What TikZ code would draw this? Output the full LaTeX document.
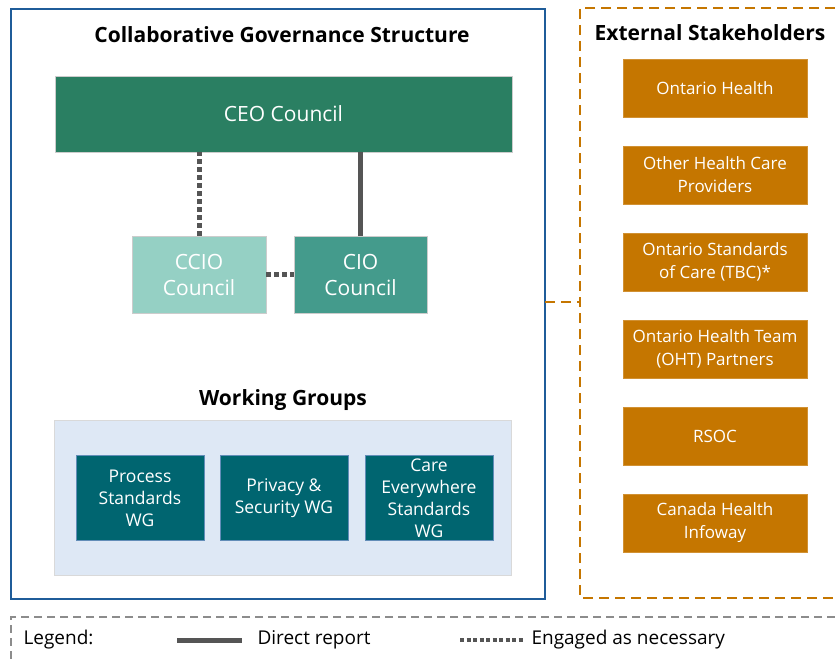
\documentclass[tikz,border=0pt]{standalone}
\usepackage{fontspec}
\setmainfont{Open Sans}
\usepackage{tikz}
\usetikzlibrary{positioning}

\definecolor{frameblue}{RGB}{31,92,153}
\definecolor{ceogreen}{RGB}{42,127,98}
\definecolor{cciogreen}{RGB}{149,208,196}
\definecolor{ciogreen}{RGB}{68,155,140}
\definecolor{wgteal}{RGB}{0,101,112}
\definecolor{panelblue}{RGB}{222,232,245}
\definecolor{stakeorange}{RGB}{197,118,0}
\definecolor{linegray}{RGB}{85,85,85}
\definecolor{legendgray}{RGB}{140,140,140}

\begin{document}
\begin{tikzpicture}[x=1pt, y=-1pt,
	council/.style={draw=gray!40, text=white, align=center, inner sep=0pt, font=\fontsize{21}{26}\selectfont},
	wgbox/.style={fill=wgteal, draw=frameblue!70, text=white, align=center, inner sep=0pt,
		minimum width=128pt, minimum height=85pt, font=\fontsize{17.5}{22}\selectfont},
	stakebox/.style={fill=stakeorange, draw=stakeorange!80!white, text=white, align=center, inner sep=0pt,
		minimum width=184pt, minimum height=58pt, font=\fontsize{17}{23}\selectfont},
	heading/.style={font=\bfseries\fontsize{21}{25}\selectfont},
	legendtxt/.style={anchor=west, font=\fontsize{19}{22}\selectfont},
	direct/.style={draw=linegray, line width=5pt},
	engaged/.style={draw=linegray, line width=5pt, dash pattern=on 5pt off 3pt}]
	\useasboundingbox (0, 0) rectangle (835, 661);
	
	% frames
	\draw[frameblue, line width=2pt] (11, 9) rectangle (545, 599);
	\draw[stakeorange, line width=2.5pt, dash pattern=on 10pt off 6pt] (835, 8) -| (580, 598) -- (835, 598);
	\draw[stakeorange, line width=2.5pt, dash pattern=on 10pt off 6pt] (545, 302) -- (580, 302);
	
	% governance
	\node[heading] (govtitle) at (282, 35) {Collaborative Governance Structure};
	\node[council, fill=ceogreen, minimum width=457pt, minimum height=76pt] (ceo) at (283.5, 114) {CEO Council};
	\node[council, fill=cciogreen, minimum width=134pt, minimum height=77pt] (ccio) at (199, 274.5) {CCIO\\Council};
	\node[council, fill=ciogreen, minimum width=133pt, minimum height=77pt] (cio) at (360.5, 274.5) {CIO\\Council};
	
	\draw[engaged] (ccio.north) -- (ccio.north |- ceo.south);
	\draw[direct] (cio.north) -- (cio.north |- ceo.south);
	\draw[engaged] (ccio.east) -- (cio.west);
	
	% working groups
	\node[heading] (wgtitle) at (283, 400) {Working Groups};
	\node[fill=panelblue, draw=gray!30, minimum width=457pt, minimum height=155pt] (panel) at (282.5, 497.5) {};
	\node[wgbox] (wgproc) at (140, 498) {Process\\Standards\\WG};
	\node[wgbox] (wgpriv) at (284, 498) {Privacy \&\\Security WG};
	\node[wgbox] (wgcare) at (429, 498) {Care\\Everywhere\\Standards\\WG};
	
	% external stakeholders
	\node[heading] (exttitle) at (710, 33) {External Stakeholders};
	\foreach \n/\p/\t in {oh/88/{Ontario Health}, ohcp/175/{Other Health Care\\Providers},
		osc/262/{Ontario Standards\\of Care (TBC)*}, oht/349/{Ontario Health Team\\(OHT) Partners},
		rsoc/436/{RSOC}, chi/523/{Canada Health\\Infoway}} {
		\node[stakebox] (\n) at (715, \p) {\t};
	};
	
	% legend
	\draw[legendgray, line width=1.5pt, dash pattern=on 8pt off 5pt] (835, 617) -| (11, 661);
	\node[legendtxt] (legend) at (20, 640) {Legend:};
	\coordinate (directa) at (177, 640);
	\coordinate (directb) at (242, 640);
	\draw[direct] (directa) -- (directb);
	\node[legendtxt] (directtxt) at (254, 640) {Direct report};
	\coordinate (engageda) at (460, 640);
	\coordinate (engagedb) at (524, 640);
	\draw[engaged, line width=4pt, dash pattern=on 4pt off 2.5pt] (engageda) -- (engagedb);
	\node[legendtxt] (engagedtxt) at (528, 640) {Engaged as necessary};
\end{tikzpicture}
\end{document}
